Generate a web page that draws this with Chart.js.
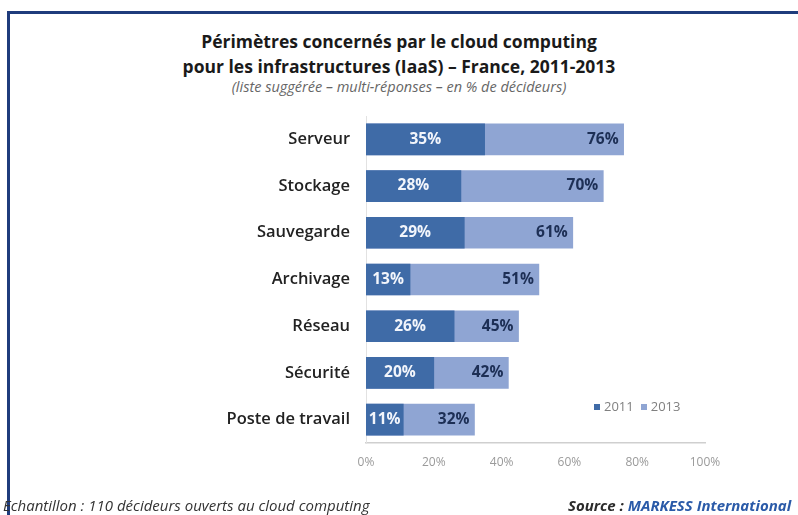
<!DOCTYPE html>
<html lang="fr">
<head>
<meta charset="utf-8">
<title>Périmètres concernés par le cloud computing</title>
<script src="https://cdn.jsdelivr.net/npm/chart.js@4.4.1/dist/chart.umd.min.js"></script>
<style>
  html, body { margin: 0; padding: 0; background: #fff; }
  body { width: 798px; height: 515px; position: relative; overflow: hidden; font-family: 'Open Sans', sans-serif; }
  .frame { position: absolute; left: 7px; top: 11px; right: -10px; bottom: -10px;
           border-left: 3px solid #1f3c7c; border-top: 3px solid #1f3c7c; }
  .title { position: absolute; left: 0; width: 798px; text-align: center; color: #1a1a1a; font-weight: 700; font-size: 17.5px; }
  .sub   { position: absolute; left: 0; width: 798px; text-align: center; color: #666; font-style: italic; font-size: 14.5px; }
  #legend { position: absolute; left: 594px; top: 397px; font-size: 13px; color: #808080; white-space: nowrap; }
  #legend span.box { display: inline-block; width: 6px; height: 6px; margin: 0 4px 1px 0; }
  #legend span.item { margin-right: 7px; }
  .foot { position: absolute; top: 495px; font-size: 15px; font-style: italic; color: #333; white-space: nowrap; }
  .foot b { color: #2b2b2b; }
  .foot b.blue { color: #2a5aa8; }
  #wrap { position: absolute; left: 0; top: 0; width: 798px; height: 515px; }
</style>
</head>
<body>
<div class="frame"></div>
<div class="title" style="top:29px">Périmètres concernés par le cloud computing</div>
<div class="title" style="top:54px">pour les infrastructures (IaaS) – France, 2011-2013</div>
<div class="sub" style="top:77px">(liste suggérée – multi-réponses – en % de décideurs)</div>
<div id="wrap"><canvas id="cloudChart"></canvas></div>
<div id="legend"></div>
<div class="foot" style="left:3px">Echantillon : 110 décideurs ouverts au cloud computing</div>
<div class="foot" style="left:568px"><b>Source : </b><b class="blue">MARKESS International</b></div>

<script>
'use strict';

/* ── Data ─────────────────────────────────── */
const CATEGORIES = ['Serveur','Stockage','Sauvegarde','Archivage','Réseau','Sécurité','Poste de travail'];
const SERIES     = ['2011','2013'];
const VAL_2011   = [35, 28, 29, 13, 26, 20, 11];
const VAL_2013   = [76, 70, 61, 51, 45, 42, 32];
const X_TICKS    = [0, 20, 40, 60, 80, 100];

const DARK  = '#3f6ba7';
const LIGHT = '#8fa5d3';

/* ── Value labels inside the bars ─────────── */
const barLabels = {
  id: 'barLabels',
  afterDatasetsDraw(chart) {
    const ctx = chart.ctx;
    ctx.save();
    ctx.font = "bold 15.5px 'Open Sans', sans-serif";
    ctx.textBaseline = 'middle';
    chart.data.datasets.forEach((ds, di) => {
      const meta = chart.getDatasetMeta(di);
      meta.data.forEach((bar, i) => {
        const txt = ds.data[i] + '%';
        if (di === 0) {
          ctx.fillStyle = '#f2f5fb';
          const w = ctx.measureText(txt).width;
          const mid = (bar.base + bar.x) / 2;
          ctx.textAlign = 'center';
          ctx.fillText(txt, Math.max(mid, bar.base + w / 2 + 2), bar.y);
        } else {
          ctx.fillStyle = '#1d2f55';
          ctx.textAlign = 'right';
          ctx.fillText(txt, bar.x - 5, bar.y);
        }
      });
    });
    ctx.restore();
  }
};

/* ── Chart ────────────────────────────────── */
function initCloudChart() {
  const canvas = document.getElementById('cloudChart');
  const chart = new Chart(canvas.getContext('2d'), {
    type: 'bar',
    data: {
      labels: CATEGORIES,
      datasets: [
        { label: SERIES[0], data: VAL_2011, backgroundColor: DARK,  barThickness: 31, grouped: false },
        { label: SERIES[1], data: VAL_2013, backgroundColor: LIGHT, barThickness: 31, grouped: false },
      ],
    },
    options: {
      indexAxis: 'y',
      responsive: true,
      maintainAspectRatio: false,
      animation: false,
      layout: { padding: { top: 116, bottom: 42, left: 0, right: 93 } },
      plugins: {
        legend: { display: false },
        tooltip: { enabled: false },
      },
      scales: {
        x: {
          min: 0, max: 100,
          afterFit: s => { s.height = 30; },
          afterBuildTicks: s => { s.ticks = X_TICKS.map(v => ({ value: v })); },
          grid: { display: false, drawTicks: false },
          border: { display: true, color: '#cfcfcf', width: 1.5 },
          ticks: { color: '#9a9a9a', padding: 12, font: { size: 12, family: "'Open Sans', sans-serif" },
                   callback: v => v + '%' },
        },
        y: {
          afterFit: s => { s.width = 366; },
          grid: { display: false, drawTicks: false },
          border: { display: true, color: '#e2e2e2', width: 1 },
          ticks: { color: '#222', padding: 16, font: { size: 16.5, weight: '600', family: "'Open Sans', sans-serif" } },
        },
      },
    },
    plugins: [barLabels],
  });

  // legend from the series names
  const legend = document.getElementById('legend');
  legend.innerHTML = chart.data.datasets.map(d =>
    `<span class="item"><span class="box" style="background:${d.backgroundColor}"></span>${d.label}</span>`
  ).join('');
}

document.addEventListener('DOMContentLoaded', initCloudChart);
</script>
</body>
</html>
